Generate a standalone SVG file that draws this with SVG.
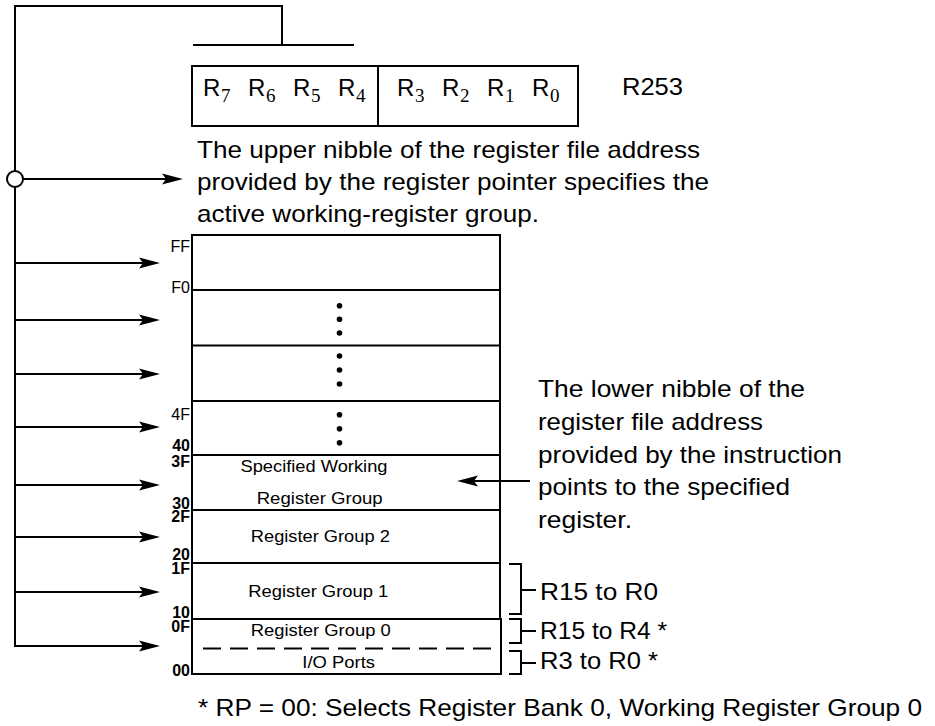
<svg xmlns="http://www.w3.org/2000/svg" width="935" height="726" viewBox="0 0 935 726">
<defs>
<style>
.s{stroke:#000;stroke-width:2;fill:none}
.t{font-family:"Liberation Sans",Arial,Helvetica,sans-serif;fill:#000}
.ann{font-size:24px}
.lab{font-size:17px;text-anchor:middle}
.hex{font-size:16px;text-anchor:end}
.hb{font-weight:bold}
.sub{font-family:"Liberation Serif","Times New Roman",serif;font-size:19px;fill:#000}
.dot{fill:#000}
</style>
<marker id="ah" markerUnits="userSpaceOnUse" markerWidth="24" markerHeight="12" refX="11" refY="6" orient="auto">
<path d="M0,0.5 L21,6 L0,11.5 L4,6 z" fill="#000"/>
</marker>
</defs>
<rect width="935" height="726" fill="#fff"/>

<g id="connectors">
<path class="s" d="M282,45 V6 H15 V646 H150" marker-end="url(#ah)"/>
<line class="s" x1="193" y1="45" x2="354" y2="45"/>
<line class="s" x1="23" y1="179" x2="173" y2="179" marker-end="url(#ah)"/>
<line class="s" x1="15" y1="263" x2="150" y2="263" marker-end="url(#ah)"/>
<line class="s" x1="15" y1="320" x2="150" y2="320" marker-end="url(#ah)"/>
<line class="s" x1="15" y1="374" x2="150" y2="374" marker-end="url(#ah)"/>
<line class="s" x1="15" y1="427" x2="150" y2="427" marker-end="url(#ah)"/>
<line class="s" x1="15" y1="485" x2="150" y2="485" marker-end="url(#ah)"/>
<line class="s" x1="15" y1="537" x2="150" y2="537" marker-end="url(#ah)"/>
<line class="s" x1="15" y1="592" x2="150" y2="592" marker-end="url(#ah)"/>
<circle cx="15" cy="179" r="8" fill="#fff" stroke="#000" stroke-width="2"/>
<line class="s" x1="530" y1="481" x2="467" y2="481" marker-end="url(#ah)"/>
</g>

<g id="rp-register">
<rect class="s" x="192" y="66" width="386" height="60"/>
<line class="s" x1="378" y1="66" x2="378" y2="126"/>
<g class="t ann">
<text x="203" y="96">R</text><text x="248" y="96">R</text><text x="293" y="96">R</text><text x="338" y="96">R</text>
<text x="397" y="96">R</text><text x="442" y="96">R</text><text x="487" y="96">R</text><text x="532" y="96">R</text>
</g>
<g class="sub">
<text x="221" y="102">7</text><text x="266" y="102">6</text><text x="311" y="102">5</text><text x="356" y="102">4</text>
<text x="415" y="102">3</text><text x="460" y="102">2</text><text x="505" y="102">1</text><text x="550" y="102">0</text>
</g>
<text class="t ann" x="622" y="95" textLength="61" lengthAdjust="spacingAndGlyphs">R253</text>
</g>

<g id="upper-note" class="t ann">
<text x="197" y="158" textLength="503" lengthAdjust="spacingAndGlyphs">The upper nibble of the register file address</text>
<text x="197" y="190" textLength="512" lengthAdjust="spacingAndGlyphs">provided by the register pointer specifies the</text>
<text x="197" y="222" textLength="342" lengthAdjust="spacingAndGlyphs">active working-register group.</text>
</g>

<g id="register-file">
<rect class="s" x="192" y="235" width="308" height="384"/>
<line class="s" x1="192" y1="290" x2="500" y2="290"/>
<line class="s" x1="192" y1="345.5" x2="500" y2="345.5"/>
<line class="s" x1="192" y1="401" x2="500" y2="401"/>
<line class="s" x1="192" y1="455" x2="500" y2="455"/>
<line class="s" x1="192" y1="510" x2="500" y2="510"/>
<line class="s" x1="192" y1="563" x2="500" y2="563"/>
<rect class="s" x="192" y="619" width="309" height="55"/>
<line class="s" x1="203" y1="648.5" x2="500" y2="648.5" stroke-dasharray="18 9"/>
<g class="dot">
<circle cx="339.5" cy="305.7" r="2.8"/><circle cx="339.5" cy="319.3" r="2.8"/><circle cx="339.5" cy="333" r="2.8"/>
<circle cx="339.5" cy="356" r="2.8"/><circle cx="339.5" cy="370" r="2.8"/><circle cx="339.5" cy="384" r="2.8"/>
<circle cx="339.5" cy="414.7" r="2.8"/><circle cx="339.5" cy="428.7" r="2.8"/><circle cx="339.5" cy="442.7" r="2.8"/>
</g>
<g class="t lab">
<text x="314" y="472" textLength="147" lengthAdjust="spacingAndGlyphs">Specified Working</text>
<text x="319.7" y="503.5" textLength="126" lengthAdjust="spacingAndGlyphs">Register Group</text>
<text x="320.3" y="541.5" textLength="139" lengthAdjust="spacingAndGlyphs">Register Group 2</text>
<text x="318.3" y="597" textLength="140" lengthAdjust="spacingAndGlyphs">Register Group 1</text>
<text x="320.7" y="636" textLength="140" lengthAdjust="spacingAndGlyphs">Register Group 0</text>
<text x="338.7" y="668.3" textLength="72.7" lengthAdjust="spacingAndGlyphs">I/O Ports</text>
</g>
<g class="t hex">
<text x="190" y="252">FF</text>
<text x="190" y="292.7">F0</text>
<text x="190" y="420">4F</text>
</g>
<g class="t hex hb">
<text x="190" y="450.5">40</text>
<text x="190" y="466.7">3F</text>
<text x="190" y="508.5">30</text>
<text x="190" y="522">2F</text>
<text x="190" y="560">20</text>
<text x="190" y="573.5">1F</text>
<text x="190" y="617.5">10</text>
<text x="190" y="632">0F</text>
<text x="190" y="676">00</text>
</g>
</g>

<g id="lower-note" class="t ann">
<text x="538" y="397" textLength="267" lengthAdjust="spacingAndGlyphs">The lower nibble of the</text>
<text x="538" y="430" textLength="225" lengthAdjust="spacingAndGlyphs">register file address</text>
<text x="538" y="463" textLength="304" lengthAdjust="spacingAndGlyphs">provided by the instruction</text>
<text x="538" y="495" textLength="252" lengthAdjust="spacingAndGlyphs">points to the specified</text>
<text x="538" y="528" textLength="94" lengthAdjust="spacingAndGlyphs">register.</text>
</g>

<g id="brackets">
<path class="s" d="M509,564 H521 V614 H509 M521,590 H536"/>
<path class="s" d="M509,619 H521 V643 H509 M521,631 H536"/>
<path class="s" d="M509,651 H521 V674 H509 M521,663 H536"/>
<g class="t ann">
<text x="540" y="600" textLength="118" lengthAdjust="spacingAndGlyphs">R15 to R0</text>
<text x="540" y="639" textLength="127" lengthAdjust="spacingAndGlyphs">R15 to R4 *</text>
<text x="540" y="668.5" textLength="118" lengthAdjust="spacingAndGlyphs">R3 to R0 *</text>
</g>
</g>

<g id="footnote">
<text class="t ann" x="198" y="716" textLength="724" lengthAdjust="spacingAndGlyphs">* RP = 00: Selects Register Bank 0, Working Register Group 0</text>
</g>
</svg>
